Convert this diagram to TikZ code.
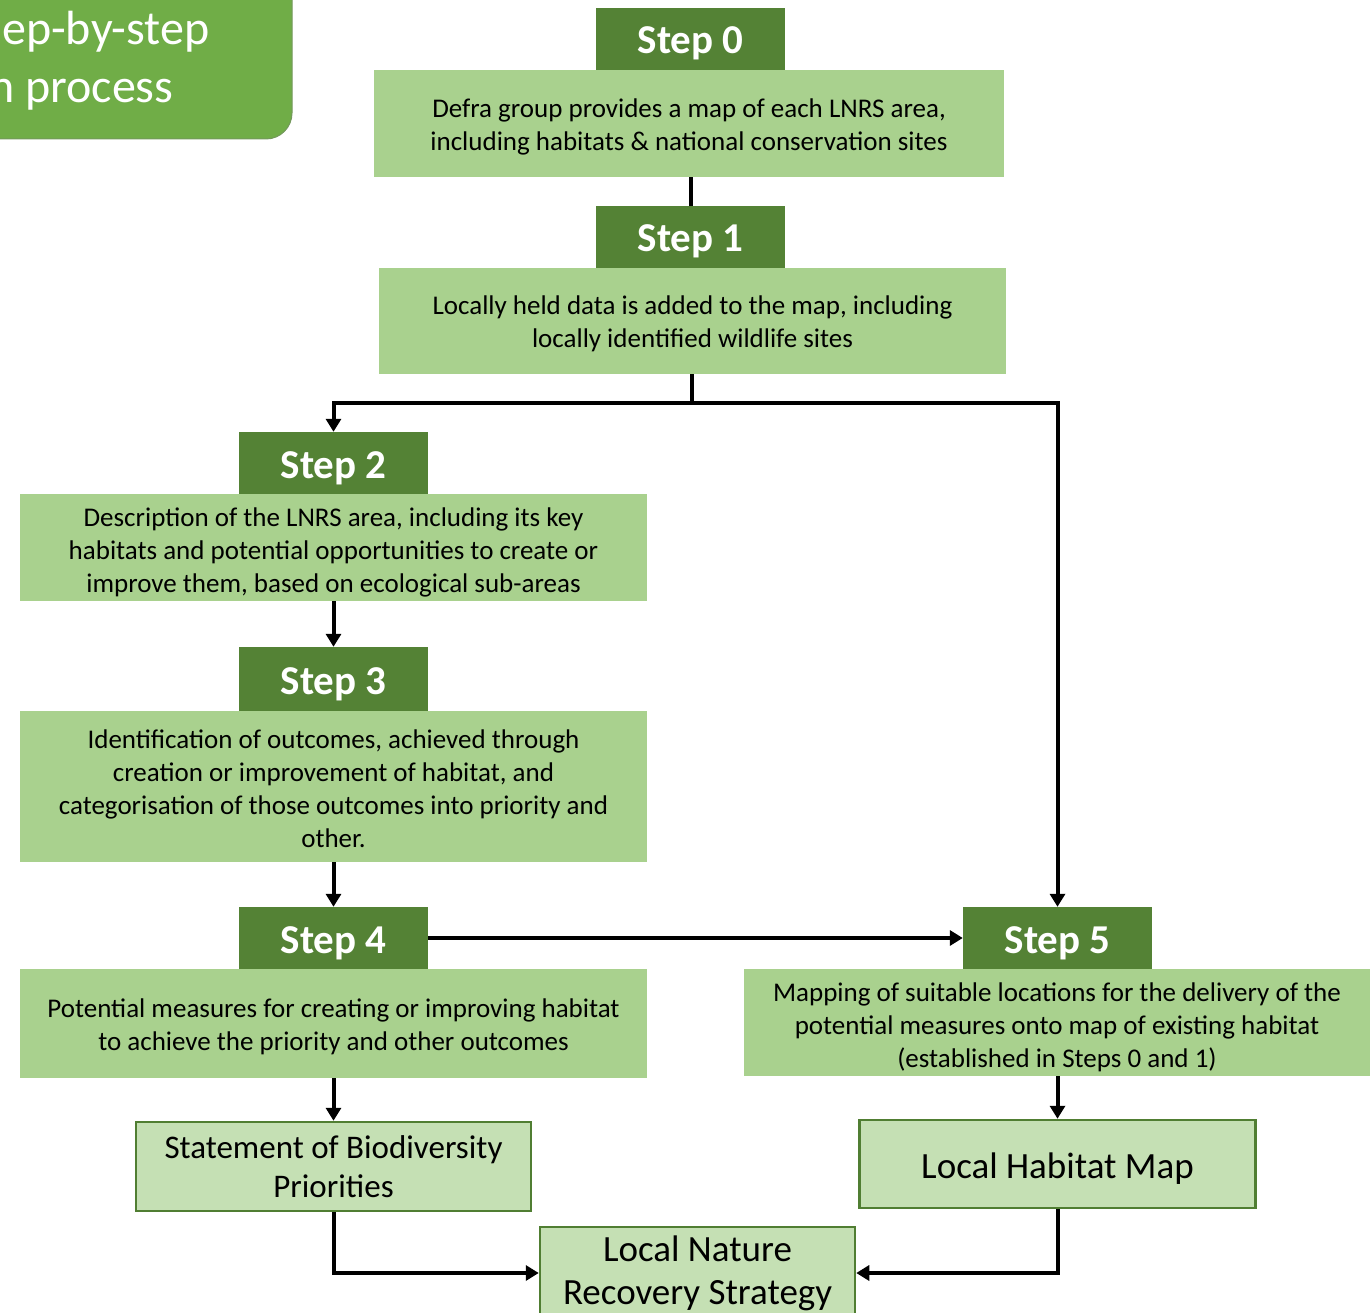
\documentclass[tikz,border=0pt]{standalone}
\usepackage{fontspec}
\setmainfont{Carlito}
\usetikzlibrary{arrows.meta}
\definecolor{hdrgreen}{HTML}{548235}
\definecolor{bodygreen}{HTML}{A9D18E}
\definecolor{outfill}{HTML}{C5E0B4}
\definecolor{outline}{HTML}{507E32}
\definecolor{titlegreen}{HTML}{70AD47}
\newcommand\bodytext[2]{\raisebox{-#1pt}[\height][\depth]{\begin{tabular}{@{}c@{}}#2\end{tabular}}}
\tikzset{
  hdr/.style={fill=hdrgreen, text=white, inner sep=0pt, minimum width=189pt, minimum height=62pt,
    text height=30pt, text depth=0pt,
    font=\bfseries\fontsize{41}{48}\selectfont},
  bodybox/.style={fill=bodygreen, inner sep=0pt, font=\fontsize{27}{33}\selectfont},
  outbox/.style={fill=outfill, draw=outline, line width=2.5pt, inner sep=0pt, align=center,
    font=\fontsize{33}{39}\selectfont},
  outboxbig/.style={outbox, font=\fontsize{37}{43}\selectfont},
  conn/.style={line width=4pt},
  arr/.style={line width=4pt, -{Triangle[length=13pt,width=15pt]}},
  titletext/.style={text=white, inner sep=0pt, anchor=base west, font=\fontsize{48}{58}\selectfont}
}
\begin{document}
\begin{tikzpicture}[x=1pt,y=-1pt]
\useasboundingbox (0,0) rectangle (1370,1313);
% title box
\draw[fill=titlegreen, draw=outline!80, line width=1pt, rounded corners=26pt] (-40,-40) rectangle (292,139);
\node[titletext] (t1) at (2,45) {ep-by-step};
\node[titletext] (t2) at (-11,103) {n process};
% steps
\node[bodybox, minimum width=630pt, minimum height=107pt] (s0b) at (689,123.5)
  {\bodytext{3.5}{Defra group provides a map of each LNRS area,\\including habitats \& national conservation sites}};
\node[hdr] (s0h) at (690.5,39) {Step 0};
\node[bodybox, minimum width=627pt, minimum height=106pt] (s1b) at (692.5,321)
  {\bodytext{3.5}{Locally held data is added to the map, including\\locally identified wildlife sites}};
\node[hdr] (s1h) at (690.5,237) {Step 1};
\node[bodybox, minimum width=627pt, minimum height=107pt] (s2b) at (333.5,547.5)
  {\bodytext{5.5}{Description of the LNRS area, including its key\\habitats and potential opportunities to create or\\improve them, based on ecological sub-areas}};
\node[hdr] (s2h) at (333.5,463) {Step 2};
\node[bodybox, minimum width=627pt, minimum height=151pt] (s3b) at (333.5,786.5)
  {\bodytext{5}{Identification of outcomes, achieved through\\creation or improvement of habitat, and\\categorisation of those outcomes into priority and\\other.}};
\node[hdr, minimum height=64pt] (s3h) at (333.5,679) {Step 3};
\node[bodybox, minimum width=627pt, minimum height=109pt] (s4b) at (333.5,1023.5)
  {\bodytext{3.5}{Potential measures for creating or improving habitat\\to achieve the priority and other outcomes}};
\node[hdr] (s4h) at (333.5,938) {Step 4};
\node[bodybox, minimum width=626pt, minimum height=107pt] (s5b) at (1057,1022.5)
  {\bodytext{5}{Mapping of suitable locations for the delivery of the\\potential measures onto map of existing habitat\\(established in Steps 0 and 1)}};
\node[hdr] (s5h) at (1057.5,938) {Step 5};
% outputs
\node[outbox, minimum width=395pt, minimum height=89pt] (sbp) at (333.5,1166.5)
  {Statement of Biodiversity\\Priorities};
\node[outboxbig, minimum width=396pt, minimum height=88pt, text height=29pt, text depth=0pt] (lhm) at (1057.5,1164)
  {Local Habitat Map};
\node[outboxbig, minimum width=315pt, minimum height=92pt] (lnrs) at (697.5,1273)
  {Local Nature\\Recovery Strategy};
% connectors
\draw[conn] (s1h.north) -- (s1h.north |- s0b.south);
\coordinate (split) at (692,403);
\draw[conn] (s1b.south -| split) -- (split);
\draw[arr] (split) -| (s2h.north);
\draw[arr] (split) -| (s5h.north);
\draw[arr] (s2b.south) -- (s3h.north);
\draw[arr] (s3b.south) -- (s4h.north);
\draw[arr] (s4h.east) -- (s5h.west);
\draw[arr] (s4b.south) -- (sbp.north);
\draw[arr] (s5b.south -| lhm.north) -- (lhm.north);
\draw[arr] (sbp.south) |- (lnrs.west);
\draw[arr] (lhm.south) |- (lnrs.east);
\end{tikzpicture}
\end{document}
